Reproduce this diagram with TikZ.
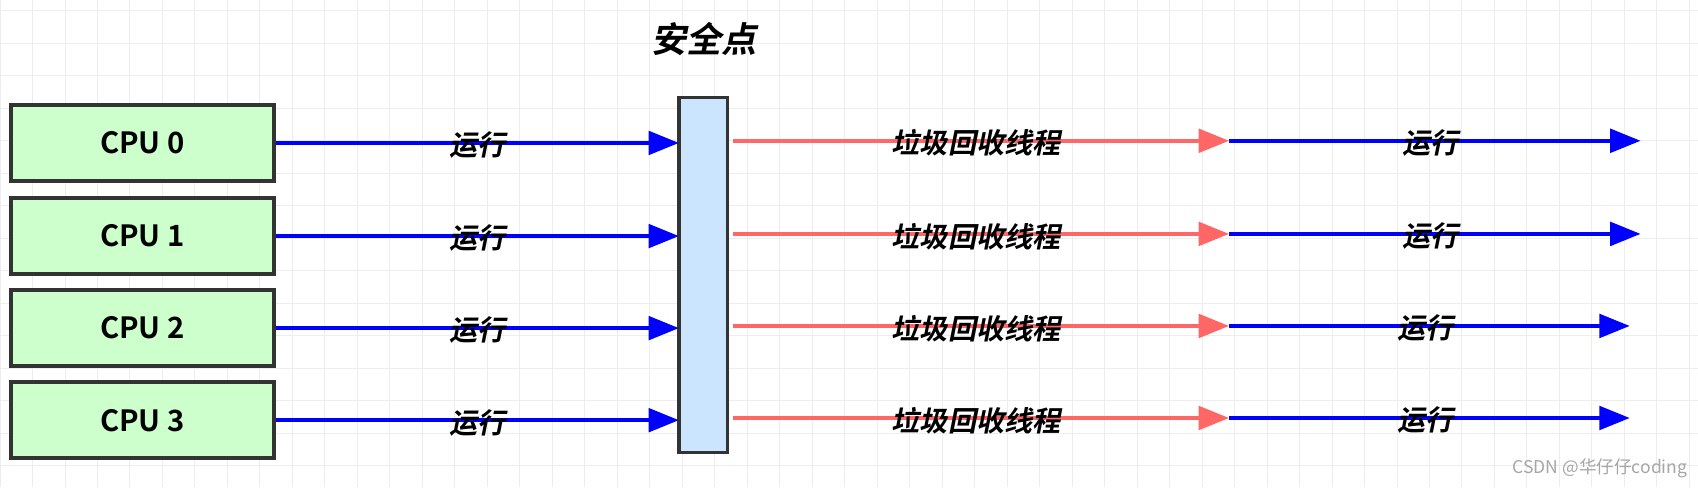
\documentclass[tikz,border=0pt]{standalone}
\usetikzlibrary{arrows.meta}
\usepackage{fontspec}
\setmainfont{Liberation Sans}
\newfontfamily\cjk{Noto Sans CJK SC}[BoldFont=* Bold]
\newfontfamily\cjkit{Noto Sans CJK SC Bold}[FakeSlant=0.2]
\definecolor{spfill}{RGB}{204,229,255}
\definecolor{cpufill}{RGB}{204,255,204}
\definecolor{rline}{RGB}{255,102,102}
\begin{document}
\begin{tikzpicture}[x=0.0325cm,y=-0.0325cm,
  cpu/.style={draw=black!80,line width=3.5pt,fill=cpufill,minimum width=243*0.0325cm,minimum height=70*0.0325cm,font=\cjk\bfseries\fontsize{25}{25}\selectfont},
  blu/.style={draw=blue,line width=3.5pt,-{Triangle[length=26pt,width=20pt]}},
  redd/.style={draw=rline,line width=3.5pt,-{Triangle[length=26pt,width=20pt]}},
  lab/.style={font=\cjkit\fontsize{24}{24}\selectfont,inner sep=0pt}]
\useasboundingbox (0,0) rectangle (1568,450);
\foreach \gx in {0,30,...,1560} \draw[black!7,line width=0.8pt] (\gx,0) -- (\gx,450);
\foreach \gy in {10,40,...,440} \draw[black!7,line width=0.8pt] (0,\gy) -- (1568,\gy);
\node[draw=black!80,line width=3pt,fill=spfill,minimum width=45*0.0325cm,minimum height=328*0.0325cm,inner sep=0pt] (sp) at (649.5,254) {};
\node[font=\cjkit\fontsize{30}{30}\selectfont] (spl) at (650,36) {安全点};
\foreach \i/\y/\e in {0/132/1515,1/218/1515,2/303/1505,3/388/1505}{
  \node[cpu] (c\i) at (131.5,\y) {CPU \i};
  \coordinate (s\i) at (627,\y);
  \coordinate (r\i) at (677,\y-2);
  \coordinate (m\i) at (1135,\y-2);
  \coordinate (e\i) at (\e,\y-2);
  \draw[blu] (c\i.east) -- (s\i) node[lab,pos=0.5,yshift=-2pt] {运行};
  \draw[redd] (r\i) -- (m\i) node[lab,pos=0.49,yshift=-2pt] {垃圾回收线程};
  \draw[blu] (m\i) -- (e\i) node[lab,pos=0.49,yshift=-2pt] {运行};
}
\node[text=black!35,font=\cjk\fontsize{15}{15}\selectfont,anchor=east] (wm) at (1562,432) {CSDN @华仔仔coding};
\end{tikzpicture}
\end{document}
